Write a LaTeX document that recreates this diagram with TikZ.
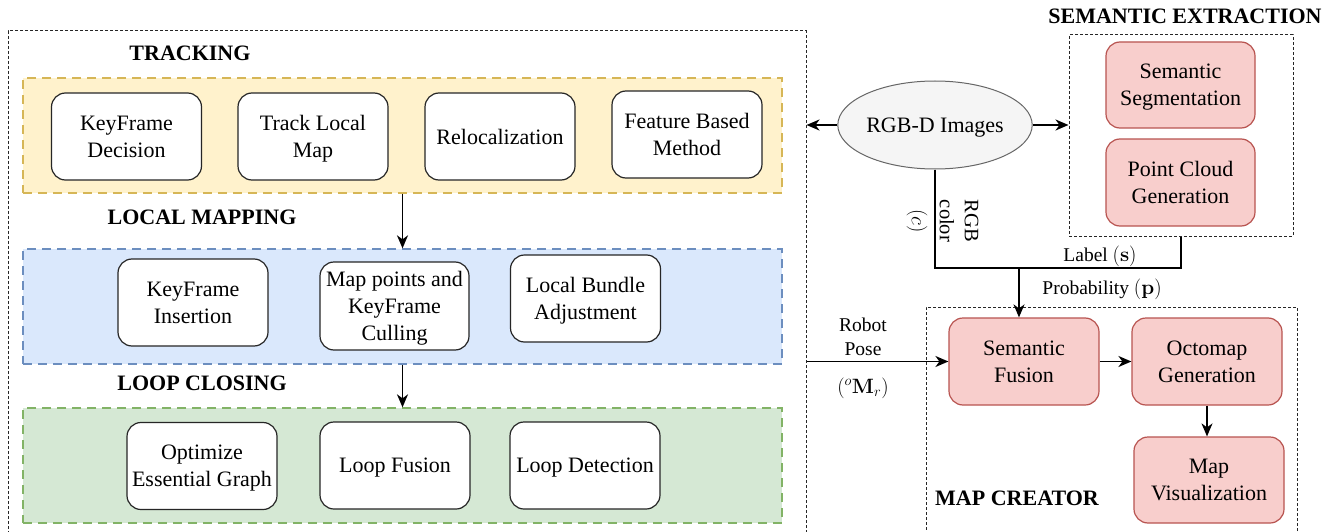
\documentclass[tikz,border=0pt]{standalone}
\usepackage[no-math]{fontspec}
\setmainfont{Liberation Serif}
\usetikzlibrary{arrows.meta,shapes.geometric}

\definecolor{ylwfill}{HTML}{FFF2CC}
\definecolor{ylwline}{HTML}{D6B656}
\definecolor{blufill}{HTML}{DAE8FC}
\definecolor{bluline}{HTML}{6C8EBF}
\definecolor{grnfill}{HTML}{D5E8D4}
\definecolor{grnline}{HTML}{82B366}
\definecolor{redfill}{HTML}{F8CECC}
\definecolor{redline}{HTML}{B85450}
\definecolor{gryfill}{HTML}{F5F5F5}
\definecolor{gryline}{HTML}{666666}

\tikzset{
  boxtext/.style={font=\fontsize{22}{27}\selectfont},
  smalltext/.style={font=\fontsize{19.5}{24}\selectfont, inner sep=0pt, align=center},
  headtext/.style={font=\fontsize{22}{27}\selectfont\bfseries, inner sep=0pt},
  procbox/.style={boxtext, draw=black!85, fill=white, rounded corners=14pt,
    line width=1.2pt, minimum width=150pt, minimum height=87pt,
    align=center, inner sep=0pt, text depth=0pt},
  semabox/.style={procbox, draw=redline, fill=redfill},
  band/.style={line width=1.3pt, dash pattern=on 9pt off 6pt,
    minimum width=759pt, minimum height=115pt, inner sep=0pt},
  groupbox/.style={draw=black!85, line width=1pt, dash pattern=on 3pt off 2pt,
    inner sep=0pt},
  arr/.style={line width=1.8pt, -{Stealth[length=13pt,width=11pt,inset=4pt]}},
  wire/.style={line width=1.8pt},
}

\begin{document}
\begin{tikzpicture}[x=1pt, y=-1pt]
\clip (0,0) rectangle (1343,532);
\fill[white] (0,0) rectangle (1343,532);

% ---- SLAM side ------------------------------------------------------------
\node[groupbox, minimum width=798pt, minimum height=529pt] (slam) at (407,295.5) {};

\node[band, draw=ylwline, fill=ylwfill] (track) at (402.5,135.5) {};
\node[band, draw=bluline, fill=blufill] (local) at (402.5,306.5) {};
\node[band, draw=grnline, fill=grnfill] (loop)  at (402.5,465.5) {};

\node[headtext] (trackhead) at (190,53)  {TRACKING};
\node[headtext] (localhead) at (202,217) {LOCAL MAPPING};
\node[headtext] (loophead)  at (202,383) {LOOP CLOSING};

\node[procbox] (kfd)   at (126.5,136.5) {KeyFrame\\Decision};
\node[procbox] (tlm)   at (313,136.5)   {Track Local\\Map};
\node[procbox] (reloc) at (500,136.5)   {Relocalization};
\node[procbox] (fbm)   at (687,134.5)   {Feature Based\\Method};

\node[procbox] (kfi) at (193,302.5) {KeyFrame\\Insertion};
\node[procbox, minimum width=149pt, minimum height=88pt] (mpc) at (394.5,306) {Map points and\\KeyFrame\\Culling};
\node[procbox] (lba) at (585.5,298.5) {Local Bundle\\Adjustment};

\node[procbox] (oeg) at (202,466)   {Optimize\\Essential Graph};
\node[procbox] (lf)  at (395,465.5) {Loop Fusion};
\node[procbox] (ld)  at (585,465.5) {Loop Detection};

\draw[arr] (track.south) -- (local.north);
\draw[arr] (local.south) -- (loop.north);

% ---- sensor input ---------------------------------------------------------
\node[ellipse, draw=gryline, fill=gryfill, line width=1pt, boxtext, text depth=0pt,
      minimum width=154pt, minimum height=88pt, inner sep=0pt] (rgbd) at (935,125) {RGB-D Images};

% ---- semantic extraction --------------------------------------------------
\node[headtext] (semhead) at (1185,16) {SEMANTIC EXTRACTION};
\node[groupbox, minimum width=224pt, minimum height=201pt] (sem) at (1181,135.5) {};
\node[semabox, minimum width=149pt, minimum height=86pt] (seg) at (1180.5,85)   {Semantic\\Segmentation};
\node[semabox, minimum width=149pt, minimum height=87pt] (pcg) at (1180.5,182.5) {Point Cloud\\Generation};

% ---- map creator ----------------------------------------------------------
\node[groupbox, minimum width=371pt, minimum height=253pt] (mapc) at (1111.5,433.5) {};
\node[headtext] (maphead) at (1017,498) {MAP CREATOR};
\node[semabox] (sf) at (1024,361.5) {Semantic\\Fusion};
\node[semabox] (og) at (1207,361.5) {Octomap\\Generation};
\node[semabox, minimum height=86pt] (mv) at (1209,480) {Map\\Visualization};

% ---- connectors -----------------------------------------------------------
\draw[arr] (rgbd.west) -- (rgbd.west -| slam.east);
\draw[arr] (rgbd.east) -- (rgbd.east -| sem.west);

\coordinate (bus) at (1019,268);
\draw[wire] (rgbd.south) |- (sem.south |- bus) -- (sem.south);
\draw[arr] (bus) -- (bus |- sf.north);

\draw[arr] (slam.east |- sf.west) -- (sf.west);
\draw[arr] (sf.east) -- (og.west);
\draw[arr] (og.south) -- (og.south |- mv.north);

% ---- connector labels -----------------------------------------------------
\node[smalltext, font=\fontsize{20.5}{25}\selectfont, rotate=-90] (rgblab) at (959,221) {RGB\\color};
\node[smalltext, rotate=-90] (clab)   at (917,221) {$(c)$};
\node[smalltext, anchor=base] (labellab) at (1100,261) {Label $(\mathbf{s})$};
\node[smalltext, anchor=base] (problab)  at (1102,294) {Probability $(\mathbf{p})$};
\node[smalltext] (poselab) at (863,337) {Robot\\Pose};
\node[smalltext, anchor=base] (mlab)     at (863,393)  {$({}^{o}\mathbf{M}_{r})$};
\end{tikzpicture}
\end{document}
